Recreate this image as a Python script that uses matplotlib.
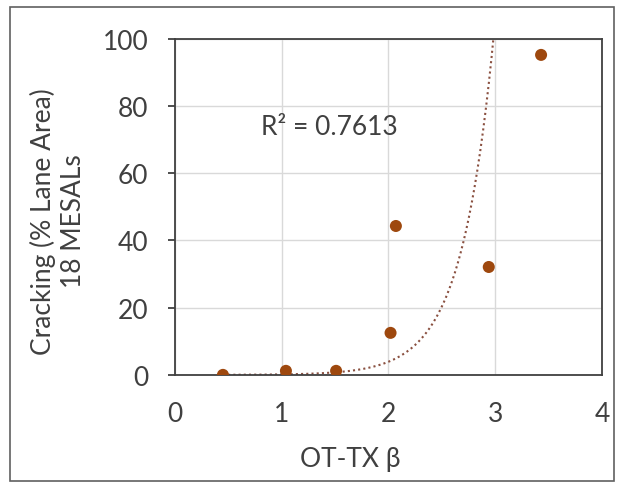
import numpy as np
import matplotlib.pyplot as plt
from matplotlib.patches import Rectangle

# OT-TX beta vs. cracking at 18 MESALs
beta = [0.45, 1.04, 1.51, 2.02, 2.07, 2.94, 3.43]
cracking = [0.0, 1.2, 1.2, 12.5, 44.3, 32.1, 95.2]

# exponential trendline y = a * exp(b * x)
trend_a = 0.0053
trend_b = 3.30
r_squared = 0.7613

xticks = [0, 1, 2, 3, 4]
yticks = [0, 20, 40, 60, 80, 100]

plt.rcParams["font.family"] = ["Lato", "DejaVu Sans"]
point_color = "#9E480E"
text_color = "#404040"

fig = plt.figure(figsize=(6.18, 4.85), dpi=100)
ax = fig.add_axes([0.283, 0.225, 0.691, 0.693])

xs = np.linspace(min(beta), 3.1, 300)
ax.plot(xs, trend_a * np.exp(trend_b * xs), linestyle=(0, (1, 1.5)),
        color="#8A5040", linewidth=1.5, zorder=2)
ax.scatter(beta, cracking, s=75, color=point_color, zorder=3, edgecolors="none")

ax.text(0.81, 73.8, f"R² = {r_squared}", fontsize=19, color=text_color,
        va="center", ha="left")

ax.set_xlim(0, 4)
ax.set_ylim(0, 100)
ax.set_xticks(xticks)
ax.set_yticks(yticks)
ax.grid(True, color="#D9D9D9", linewidth=1)
ax.set_axisbelow(True)

for spine in ax.spines.values():
    spine.set_color("#404040")
    spine.set_linewidth(1.3)

ax.tick_params(axis="x", length=0, pad=19, labelsize=19, colors=text_color)
ax.tick_params(axis="y", length=5, width=1.3, pad=14, labelsize=19, colors=text_color)
ax.tick_params(axis="y", color="#404040")

ax.set_xlabel("OT-TX β", fontsize=19, color=text_color)
ax.set_ylabel("Cracking (% Lane Area)\n18 MESALs", fontsize=19,
              color=text_color, linespacing=1.25)
ax.xaxis.set_label_coords(0.41, -0.25)
ax.yaxis.set_label_coords(-0.274, 0.46)
ax.xaxis.label.set_va("center")
ax.yaxis.label.set_va("center")

# border around the whole chart
fig.patches.append(Rectangle((0.016, 0.006), 0.978, 0.978, transform=fig.transFigure,
                             fill=False, edgecolor="#606060", linewidth=1.2))

fig.savefig("out.png", dpi=100)
